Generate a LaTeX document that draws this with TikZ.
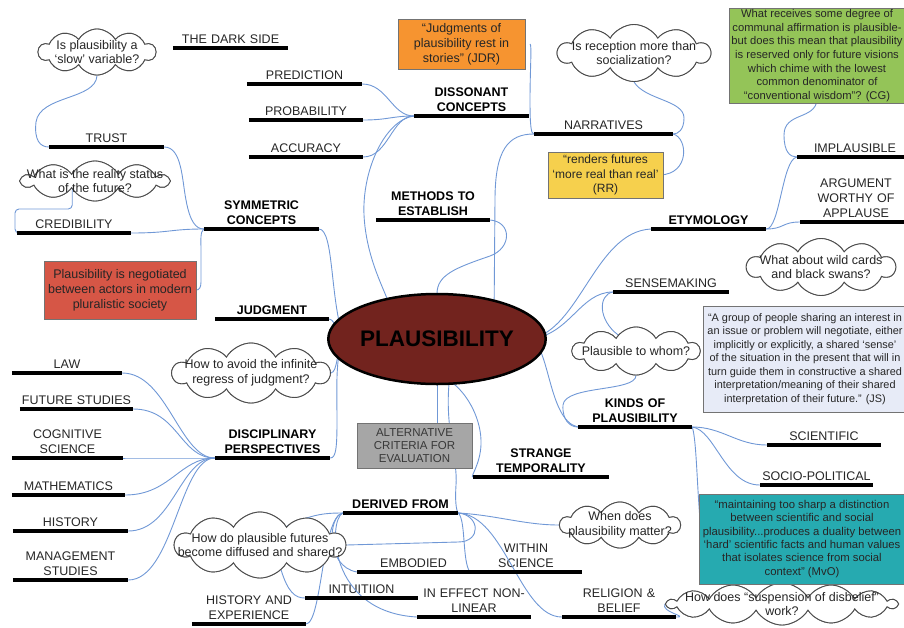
\documentclass[tikz,border=0pt]{standalone}
\usepackage{fontspec}
\setmainfont{Liberation Sans}
\usetikzlibrary{shapes.geometric,shapes.symbols}
\definecolor{connc}{RGB}{112,152,214}
\definecolor{plred}{RGB}{114,35,30}
\definecolor{orangebox}{RGB}{246,148,48}
\definecolor{yellowbox}{RGB}{246,208,77}
\definecolor{greenbox}{RGB}{148,196,88}
\definecolor{redbox}{RGB}{214,86,70}
\definecolor{lavbox}{RGB}{231,235,247}
\definecolor{tealbox}{RGB}{38,170,176}
\definecolor{greybox}{RGB}{166,166,166}
\begin{document}
\begin{tikzpicture}[x=1pt,y=-1pt,
  lab/.style={anchor=south, align=center, inner xsep=0pt, inner ysep=4.5pt, font=\fontsize{12.5}{15}\selectfont, text=black!85},
  blab/.style={lab, font=\fontsize{12.5}{15}\selectfont\bfseries, text=black},
  uline/.style={line width=3.2pt, black},
  conn/.style={draw=connc, line width=0.9pt},
  cl/.style={cloud, cloud puffs=10, cloud puff arc=120, cloud ignores aspect, draw=black!70, fill=white, line width=0.9pt, inner sep=0pt},
  cltext/.style={align=center, font=\fontsize{12.5}{14.5}\selectfont, text=black!85, inner sep=0pt},
  box/.style={draw=black!55, line width=0.8pt, inner sep=0pt, align=center, text=black!85},
  sbox/.style={box, font=\fontsize{11.5}{13.5}\selectfont}
]
\useasboundingbox (0,0) rectangle (904,627);
\clip (0,0) rectangle (904,627);

% ---------- labels ----------
\node[lab, text width=115pt] (dark) at (230.5,48) {THE DARK SIDE};
\node[lab, text width=115pt] (pred) at (304.5,84) {PREDICTION};
\node[lab, text width=114pt] (prob) at (306,120) {PROBABILITY};
\node[lab, text width=114pt] (acc) at (306,157) {ACCURACY};
\node[blab, text width=115pt] (diss) at (471.5,116) {DISSONANT\\CONCEPTS};
\node[lab, text width=139pt] (narr) at (603.5,134) {NARRATIVES};
\node[lab, text width=115pt] (trust) at (106.5,147) {TRUST};
\node[blab, text width=115pt] (sym) at (261.5,229) {SYMMETRIC\\CONCEPTS};
\node[lab, text width=114pt] (cred) at (74,233) {CREDIBILITY};
\node[blab, text width=114pt] (meth) at (433,220) {METHODS TO\\ESTABLISH};
\node[blab, text width=115pt] (ety) at (708.5,229) {ETYMOLOGY};
\node[lab, text width=116pt] (impl) at (855,157) {IMPLAUSIBLE};
\node[lab, text width=112pt] (arg) at (856,222) {ARGUMENT\\WORTHY OF\\APPLAUSE};
\node[lab, text width=116pt] (sense) at (671,292) {SENSEMAKING};
\node[blab, text width=114pt] (judg) at (272,319) {JUDGMENT};
\node[lab, text width=110pt] (law) at (67,373) {LAW};
\node[lab, text width=113pt] (fut) at (76.5,409) {FUTURE STUDIES};
\node[lab, text width=111pt] (cog) at (67.5,458) {COGNITIVE\\SCIENCE};
\node[blab, text width=115pt] (disc) at (272.5,458) {DISCIPLINARY\\PERSPECTIVES};
\node[lab, text width=113pt] (math) at (68.5,495) {MATHEMATICS};
\node[lab, text width=115pt] (hist) at (70.5,531) {HISTORY};
\node[lab, text width=115pt] (mgmt) at (70.5,580) {MANAGEMENT\\STUDIES};
\node[blab, text width=114pt] (kinds) at (635,427) {KINDS OF\\PLAUSIBILITY};
\node[lab, text width=114pt] (sci) at (824,445) {SCIENTIFIC};
\node[lab, text width=113pt] (socio) at (816.5,485) {SOCIO-POLITICAL};
\node[blab, text width=136pt] (strange) at (541,477) {STRANGE\\TEMPORALITY};
\node[blab, text width=115pt] (derived) at (400.5,513) {DERIVED FROM};
\node[lab, text width=113pt] (embod) at (413.5,572) {EMBODIED};
\node[lab, text width=112pt] (within) at (526,572) {WITHIN\\SCIENCE};
\node[lab, text width=113pt] (intu) at (361.5,598) {INTUITIION};
\node[lab, text width=114pt] (ineff) at (474,617) {IN EFFECT NON-\\LINEAR};
\node[lab, text width=114pt] (relig) at (619,617) {RELIGION \&\\BELIEF};
\node[lab, text width=114pt] (histexp) at (249,624) {HISTORY AND\\EXPERIENCE};

% ---------- shapes used as connector ends ----------
\path (437,339) coordinate (Pc);
\node[ellipse, minimum width=186pt, minimum height=90pt, inner sep=0pt] (P) at (Pc) {};
\node[cl, minimum width=117pt, minimum height=46pt] (cslow) at (97,52) {};
\node[cl, minimum width=146pt, minimum height=40pt] (creal) at (95,181) {};
\node[cl, minimum width=152pt, minimum height=57pt] (crecep) at (634,53) {};
\node[cl, minimum width=157pt, minimum height=60pt] (cjudg) at (251,373) {};
\node[cl, minimum width=148pt, minimum height=57pt] (cwild) at (821,267) {};
\node[cl, minimum width=127pt, minimum height=48pt] (cwhom) at (636,351) {};
\node[cl, minimum width=170pt, minimum height=66pt] (cdiff) at (260,545) {};
\node[cl, minimum width=120pt, minimum height=46pt] (cwhen) at (620,525) {};
\node[cl, cloud puffs=14, minimum width=229pt, minimum height=42pt] (csusp) at (782,604) {};

% ---------- connectors ----------
\draw[conn] (cslow.south) .. controls (96,100) and (40,95) .. (36,122) .. controls (34,140) and (40,147) .. (trust.south west);
\draw[conn] (trust.south east) .. controls (182,147) and (182,180) .. (186,200) .. controls (190,222) and (196,229) .. (sym.south west);
\draw[conn] (cred.south east) .. controls (170,233) and (170,229) .. (sym.south west);
\draw[conn, rounded corners=4pt] (creal.200) |- (15,209) |- (cred.south west);
\draw[conn] (sym.south west) .. controls (200,232) and (201,240) .. (201,250) -- (201,282) .. controls (201,288) and (199,290) .. (196,290);
\draw[conn] (sym.south east) .. controls (334,230) and (330,300) .. (P.west);
\draw[conn] (judg.south east) .. controls (336,320) and (336,335) .. (P.west);
\draw[conn] (cjudg.east) .. controls (338,372) and (336,350) .. (P.west);
\draw[conn] (P.west) .. controls (335,355) and (337,390) .. (337,420) .. controls (337,448) and (336,458) .. (disc.south east);
\foreach \t in {law,fut,cog,math,hist,mgmt}
  \draw[conn] (disc.south west) .. controls +(-35,0) and +(45,0) .. (\t.south east);
\foreach \t in {pred,prob,acc}
  \draw[conn] (diss.south west) .. controls +(-22,0) and +(25,0) .. (\t.south east);
\draw[conn] (diss.south west) .. controls (385,120) and (362,170) .. (364,215) .. controls (366,255) and (382,285) .. (P.142);
\draw[conn] (meth.south east) .. controls (512,222) and (512,248) .. (490,256) .. controls (455,268) and (437,275) .. (P.north);
\draw[conn] (narr.south west) .. controls (508,134) and (495,150) .. (495,200) -- (P.32);
\draw[conn] (530,44) .. controls (532,44) and (530,70) .. (530,100) .. controls (530,125) and (531,134) .. (narr.south west);
\draw[conn] (crecep.south) .. controls (645,100) and (684,100) .. (684,118) .. controls (684,130) and (678,134) .. (narr.south east);
\draw[conn] (narr.south east) .. controls (688,138) and (690,174) .. (660,175);
\draw[conn] (817,100) .. controls (815,120) and (784,112) .. (784,135) .. controls (784,152) and (790,157) .. (impl.south west);
\draw[conn] (ety.south east) .. controls (780,229) and (782,160) .. (impl.south west);
\draw[conn] (ety.south east) .. controls +(18,0) and +(-18,0) .. (arg.south west);
\draw[conn] (P.east) .. controls (580,330) and (595,232) .. (ety.south west);
\draw[conn] (P.east) .. controls (570,335) and (580,292) .. (sense.south west);
\draw[conn] (sense.south west) .. controls (598,295) and (598,320) .. (cwhom.138);
\draw[conn] (P.east) .. controls (550,345) and (548,420) .. (kinds.south west);
\draw[conn] (cwhom.south) .. controls (636,392) and (565,385) .. (563,405) .. controls (562,420) and (570,427) .. (kinds.south west);
\draw[conn] (kinds.south east) .. controls +(30,0) and +(-30,0) .. (sci.south west);
\draw[conn] (kinds.south east) .. controls (715,430) and (725,485) .. (socio.south west);
\draw[conn] (kinds.south east) .. controls (697,440) and (697,500) .. (702,539);
\draw[conn] (P.south) -- (437,430);
\draw[conn] (P.290) .. controls (468,395) and (482,420) .. (481,445) .. controls (480,465) and (470,477) .. (strange.south west);
\draw[conn] (P.285) .. controls (445,430) and (458,460) .. (456,485) .. controls (455,500) and (456,510) .. (derived.south east);
\draw[conn] (derived.south east) .. controls (495,515) and (525,525) .. (cwhen.west);
\draw[conn] (derived.south east) .. controls (505,515) and (520,617) .. (relig.south west);
\draw[conn] (derived.south east) .. controls (466,520) and (462,560) .. (within.south west);
\draw[conn] (derived.south east) .. controls (480,515) and (482,542) .. (458,542) -- (cdiff.east);
\draw[conn] (derived.south west) .. controls (325,513) and (312,514) .. (cdiff.35);
\draw[conn] (derived.south west) .. controls (328,516) and (325,566) .. (embod.south west);
\draw[conn] (derived.south west) .. controls (328,520) and (328,612) .. (ineff.south west);
\draw[conn] (derived.south west) .. controls (322,516) and (322,622) .. (histexp.south east);
\draw[conn] (cdiff.310) .. controls (288,592) and (295,598) .. (intu.south west);
\draw[conn] (relig.south east) .. controls (690,617) and (660,612) .. (csusp.west);

% ---------- clouds (drawn over connectors) ----------
\node[cl, minimum width=117pt, minimum height=46pt] at (cslow) {};
\node[cl, minimum width=146pt, minimum height=40pt] at (creal) {};
\node[cl, minimum width=152pt, minimum height=57pt] at (crecep) {};
\node[cl, minimum width=157pt, minimum height=60pt] at (cjudg) {};
\node[cl, minimum width=148pt, minimum height=57pt] at (cwild) {};
\node[cl, minimum width=127pt, minimum height=48pt] at (cwhom) {};
\node[cl, minimum width=170pt, minimum height=66pt] at (cdiff) {};
\node[cl, minimum width=120pt, minimum height=46pt] at (cwhen) {};
\node[cl, cloud puffs=14, minimum width=229pt, minimum height=42pt] at (csusp) {};
\node[cltext] (cslowt) at (cslow) {Is plausibility a\\‘slow’ variable?};
\node[cltext] (crealt) at (creal) {What is the reality status\\of the future?};
\node[cltext] (crecept) at (crecep) {Is reception more than\\socialization?};
\node[cltext] (cjudgt) at (cjudg) {How to avoid the infinite\\regress of judgment?};
\node[cltext] (cwildt) at (cwild) {What about wild cards\\and black swans?};
\node[cltext] (cwhomt) at (cwhom) {Plausible to whom?};
\node[cltext] (cdifft) at (cdiff) {How do plausible futures\\become diffused and shared?};
\node[cltext] (cwhent) at (cwhen) {When does\\plausibility matter?};
\node[cltext] (csuspt) at (csusp) {How does “suspension of disbelief”\\work?};

% ---------- boxes ----------
\node[box, fill=orangebox, minimum width=127pt, minimum height=50pt, font=\fontsize{12.5}{15}\selectfont] (jdr) at (461.5,44) {“Judgments of\\plausibility rest in\\stories” (JDR)};
\node[box, fill=yellowbox, minimum width=115pt, minimum height=46pt, font=\fontsize{12}{14.5}\selectfont] (rr) at (605.5,175) {“renders futures\\‘more real than real’\\(RR)};
\node[sbox, fill=greenbox, minimum width=176pt, minimum height=95pt, font=\fontsize{11.2}{13.6}\selectfont] (cg) at (817,55.5) {What receives some degree of\\communal affirmation is plausible-\\but does this mean that plausibility\\is reserved only for future visions\\which chime with the lowest\\common denominator of\\“conventional wisdom”? (CG)};
\node[box, fill=redbox, minimum width=152pt, minimum height=58pt, font=\fontsize{12.5}{15}\selectfont] (neg) at (120,290) {Plausibility is negotiated\\between actors in modern\\pluralistic society};
\node[sbox, fill=lavbox, minimum width=204pt, minimum height=106pt, font=\fontsize{10.9}{13.5}\selectfont] (js) at (805,359) {“A group of people sharing an interest in\\an issue or problem will negotiate, either\\implicitly or explicitly, a shared ‘sense’\\of the situation in the present that will in\\turn guide them in constructive a shared\\interpretation/meaning of their shared\\interpretation of their future.” (JS)};
\node[sbox, fill=tealbox, minimum width=206pt, minimum height=90pt, font=\fontsize{11.3}{13.3}\selectfont] (mvo) at (802,539) {“maintaining too sharp a distinction\\between scientific and social\\plausibility...produces a duality between\\‘hard’ scientific facts and human values\\that isolates science from social\\context” (MvO)};
\node[sbox, fill=greybox, minimum width=115pt, minimum height=45pt, text=black!78, font=\fontsize{11.5}{13}\selectfont] (alt) at (414.5,445.5) {ALTERNATIVE\\CRITERIA FOR\\EVALUATION};

% ---------- underlines ----------
\foreach \n in {dark,pred,prob,acc,diss,narr,trust,sym,cred,meth,ety,impl,arg,sense,judg,law,fut,cog,disc,math,hist,mgmt,kinds,sci,socio,strange,derived,embod,within,intu,ineff,relig,histexp}
  \draw[uline] (\n.south west) -- (\n.south east);

% ---------- central ellipse ----------
\node[ellipse, draw=black, line width=2.5pt, fill=plred, minimum width=186pt, minimum height=90pt, inner sep=0pt, font=\fontsize{22.5}{27}\selectfont\bfseries] (Pmain) at (Pc) {PLAUSIBILITY};
\end{tikzpicture}
\end{document}
